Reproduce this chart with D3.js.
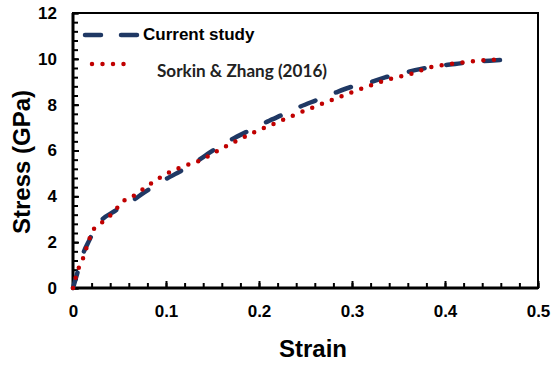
<!DOCTYPE html>
<html>
<head>
<meta charset="utf-8">
<script src="https://cdn.jsdelivr.net/npm/d3@7"></script>
<style>
  body { margin: 0; background: #fff; }
  svg { display: block; }
</style>
</head>
<body>
<div id="wrapper"></div>
<script>
// strain / stress (GPa)
const currentStrain = [0, 0.005, 0.011, 0.018, 0.023, 0.029, 0.045, 0.0606, 0.0763, 0.0935, 0.1097, 0.1276, 0.1419,
  0.158, 0.174, 0.192, 0.209, 0.227, 0.244, 0.262, 0.28, 0.298, 0.316, 0.3355, 0.353, 0.373, 0.393, 0.411, 0.429, 0.448, 0.461];
const currentStress = [0, 0.7, 1.51, 2.12, 2.55, 2.89, 3.36, 3.72, 4.16, 4.61, 4.97, 5.37, 5.77,
  6.2, 6.56, 6.92, 7.26, 7.59, 7.91, 8.2, 8.49, 8.76, 8.93, 9.19, 9.36, 9.55, 9.7, 9.77, 9.87, 9.92, 9.95];

const sorkinStrain = [0, 0.0057, 0.0104, 0.014, 0.0172, 0.0211, 0.029, 0.045, 0.0523, 0.062, 0.08, 0.098, 0.118,
  0.139, 0.158, 0.178, 0.1975, 0.217, 0.238, 0.258, 0.278, 0.2996, 0.32, 0.341, 0.3624, 0.383, 0.4046, 0.427, 0.448, 0.461];
const sorkinStress = [0, 0.83, 1.25, 1.69, 2.09, 2.49, 2.79, 3.36, 3.74, 3.94, 4.45, 4.93, 5.3,
  5.61, 6.05, 6.46, 6.85, 7.18, 7.55, 7.88, 8.2, 8.54, 8.84, 9.12, 9.33, 9.62, 9.77, 9.88, 9.95, 9.96];

const xTicks = [0, 0.1, 0.2, 0.3, 0.4, 0.5];
const yTicks = [0, 2, 4, 6, 8, 10, 12];
const xMinor = d3.range(0, 0.5001, 0.02);
const yMinor = d3.range(0, 12.001, 0.4);

const seriesNames = ["Current study", "Sorkin & Zhang (2016)"];

const dimension = {
  width: 552,
  height: 365,
  margin: { top: 13, left: 73, bottom: 77, right: 14 }
};
dimension.boundedWidth = dimension.width - dimension.margin.left - dimension.margin.right;
dimension.boundedHeight = dimension.height - dimension.margin.top - dimension.margin.bottom;

const font = "'Liberation Sans', Arial, sans-serif";
const blue = "#1f3864";
const red = "#c00000";

const svg = d3.select("#wrapper").append("svg")
  .attr("width", dimension.width)
  .attr("height", dimension.height);

const bounded = svg.append("g")
  .attr("transform", `translate(${dimension.margin.left},${dimension.margin.top})`);

const xScaler = d3.scaleLinear().domain([0, 0.5]).range([0, dimension.boundedWidth]);
const yScaler = d3.scaleLinear().domain([0, 12]).range([dimension.boundedHeight, 0]);

// minor ticks (inside)
bounded.append("g")
  .call(d3.axisLeft(yScaler).tickValues(yMinor).tickSize(-5).tickFormat(""))
  .call(g => g.select(".domain").remove())
  .call(g => g.selectAll("line").attr("stroke-width", 2));
bounded.append("g")
  .attr("transform", `translate(0,${dimension.boundedHeight})`)
  .call(d3.axisBottom(xScaler).tickValues(xMinor).tickSize(-5).tickFormat(""))
  .call(g => g.select(".domain").remove())
  .call(g => g.selectAll("line").attr("stroke-width", 2));

// major ticks + labels
bounded.append("g")
  .call(d3.axisLeft(yScaler).tickValues(yTicks).tickSize(-6).tickPadding(16))
  .call(g => g.select(".domain").remove())
  .call(g => g.selectAll("line").attr("stroke-width", 2))
  .call(g => g.selectAll("text")
    .attr("font-family", font).attr("font-weight", "bold").attr("font-size", 17).attr("fill", "#000"));

bounded.append("g")
  .attr("transform", `translate(0,${dimension.boundedHeight})`)
  .call(d3.axisBottom(xScaler).tickValues(xTicks).tickSize(-7).tickPadding(17).tickFormat(d => d === 0 ? "0" : d3.format(".1f")(d)))
  .call(g => g.select(".domain").remove())
  .call(g => g.selectAll("line").attr("stroke-width", 2))
  .call(g => g.selectAll("text")
    .attr("font-family", font).attr("font-weight", "bold").attr("font-size", 17).attr("fill", "#000"));

// frame
bounded.append("rect")
  .attr("width", dimension.boundedWidth)
  .attr("height", dimension.boundedHeight)
  .attr("fill", "none")
  .attr("stroke", "#000")
  .attr("stroke-width", 2);
bounded.append("path")
  .attr("d", `M0,0V${dimension.boundedHeight}H${dimension.boundedWidth}`)
  .attr("fill", "none")
  .attr("stroke", "#000")
  .attr("stroke-width", 3);

const lineGenerator = d3.line()
  .x(d => xScaler(d[0]))
  .y(d => yScaler(d[1]))
  .curve(d3.curveMonotoneX);

const currentData = d3.zip(currentStrain, currentStress);
const sorkinData = d3.zip(sorkinStrain, sorkinStress);

bounded.append("path")
  .attr("d", lineGenerator(currentData))
  .attr("fill", "none")
  .attr("stroke", blue)
  .attr("stroke-width", 4.5)
  .attr("stroke-linecap", "round")
  .attr("stroke-dasharray", "16,22");

bounded.append("path")
  .attr("d", lineGenerator(sorkinData))
  .attr("fill", "none")
  .attr("stroke", red)
  .attr("stroke-width", 4.5)
  .attr("stroke-linecap", "round")
  .attr("stroke-dasharray", "0,10.5");

// legend
const legend = svg.append("g");
legend.append("line")
  .attr("x1", 85).attr("x2", 137).attr("y1", 35).attr("y2", 35)
  .attr("stroke", blue).attr("stroke-width", 4.5)
  .attr("stroke-linecap", "round").attr("stroke-dasharray", "16,20");
legend.append("text")
  .attr("x", 143).attr("y", 40)
  .attr("font-family", font).attr("font-weight", "bold").attr("font-size", 17)
  .text(seriesNames[0]);
legend.append("line")
  .attr("x1", 92).attr("x2", 134).attr("y1", 64).attr("y2", 64)
  .attr("stroke", red).attr("stroke-width", 4.5)
  .attr("stroke-linecap", "round").attr("stroke-dasharray", "0,10.5");
legend.append("text")
  .attr("x", 157).attr("y", 77)
  .attr("font-family", "Lato, 'Open Sans', sans-serif").attr("font-weight", "bold").attr("font-size", 16.5)
  .attr("fill", "#222")
  .attr("textLength", 170).attr("lengthAdjust", "spacingAndGlyphs")
  .text(seriesNames[1]);

// axis titles
svg.append("text")
  .attr("x", 313)
  .attr("y", 357)
  .attr("text-anchor", "middle")
  .attr("font-family", font).attr("font-weight", "bold").attr("font-size", 24)
  .text("Strain");

svg.append("text")
  .attr("transform", "rotate(-90)")
  .attr("x", -162)
  .attr("y", 30)
  .attr("text-anchor", "middle")
  .attr("font-family", font).attr("font-weight", "bold").attr("font-size", 24)
  .text("Stress (GPa)");
</script>
</body>
</html>
